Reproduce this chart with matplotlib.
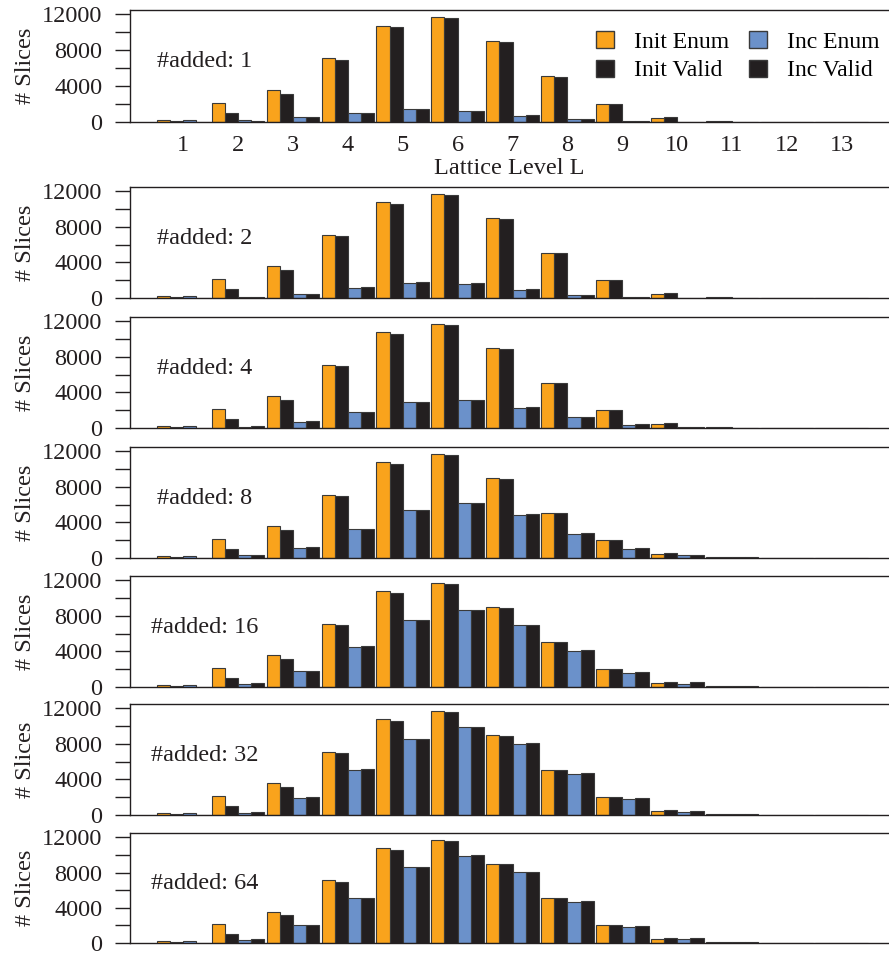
import numpy as np
import matplotlib
matplotlib.use("Agg")
import matplotlib.pyplot as plt
from matplotlib.patches import Patch

plt.rcParams['font.family'] = ['Liberation Serif', 'DejaVu Serif']
plt.rcParams['font.size'] = 17.5

# lattice levels and the initial enumeration (same in every panel)
levels = np.arange(1, 14)
init_enum = [200, 2160, 3560, 7140, 10770, 11700, 9000, 5080, 2050, 480, 90, 25, 10]
init_valid = [100, 1000, 3140, 6950, 10580, 11590, 8930, 5060, 2040, 540, 80, 20, 5]

# incremental enumeration for each number of added constraints
added = [1, 2, 4, 8, 16, 32, 64]
inc_enum_1 = [180, 180, 520, 1050, 1420, 1270, 710, 300, 60, 20, 10, 5, 2]
inc_valid_1 = [50, 150, 550, 1050, 1420, 1280, 780, 320, 60, 20, 10, 5, 2]
inc_enum_2 = [180, 110, 470, 1160, 1720, 1610, 940, 320, 60, 20, 10, 5, 2]
inc_valid_2 = [50, 120, 500, 1190, 1750, 1650, 980, 380, 60, 20, 10, 5, 2]
inc_enum_4 = [180, 150, 680, 1810, 2900, 3130, 2260, 1210, 380, 90, 30, 10, 2]
inc_valid_4 = [50, 190, 750, 1850, 2940, 3170, 2340, 1280, 450, 110, 40, 10, 2]
inc_enum_8 = [180, 300, 1170, 3250, 5400, 6150, 4830, 2680, 1020, 300, 60, 15, 5]
inc_valid_8 = [50, 300, 1250, 3280, 5450, 6200, 4900, 2790, 1130, 340, 70, 20, 5]
inc_enum_16 = [180, 340, 1770, 4550, 7520, 8650, 6950, 4060, 1620, 380, 70, 20, 5]
inc_valid_16 = [50, 410, 1840, 4590, 7590, 8720, 6990, 4140, 1730, 530, 80, 20, 5]
inc_enum_32 = [180, 260, 1960, 5090, 8530, 9890, 8000, 4640, 1770, 340, 70, 20, 5]
inc_valid_32 = [50, 380, 2000, 5130, 8570, 9960, 8080, 4720, 1920, 490, 80, 20, 5]
inc_enum_64 = [180, 340, 1990, 5130, 8580, 9930, 8050, 4680, 1870, 410, 70, 20, 5]
inc_valid_64 = [50, 450, 2020, 5130, 8610, 9960, 8090, 4760, 1950, 560, 80, 20, 5]

inc_enum = [inc_enum_1, inc_enum_2, inc_enum_4, inc_enum_8,
            inc_enum_16, inc_enum_32, inc_enum_64]
inc_valid = [inc_valid_1, inc_valid_2, inc_valid_4, inc_valid_8,
             inc_valid_16, inc_valid_32, inc_valid_64]

c_orange = '#F9A31C'
c_blue = '#6B91CA'
c_black = '#231F20'
c_edge = '#3A3A3A'

W, H = 889, 955
fig = plt.figure(figsize=(W / 100, H / 100), dpi=100)

# panel top/bottom in pixels
panels = [(10, 122), (187, 298), (317, 428), (447, 558),
          (576, 687), (704, 815), (833, 943)]
left_px = 130
w = 0.24

for i, (top, bot) in enumerate(panels):
    ax = fig.add_axes([left_px / W, 1 - bot / H, (W - left_px) / W, (bot - top) / H])
    series = [(init_enum, c_orange), (init_valid, c_black),
              (inc_enum[i], c_blue), (inc_valid[i], c_black)]
    for k, (vals, col) in enumerate(series):
        ax.bar(levels + (k - 1.5) * w, vals, w, color=col,
               edgecolor=c_edge, linewidth=0.8, zorder=2)

    ax.set_xlim(0.03, 13.86)
    ax.set_ylim(0, 12500)
    ax.set_yticks([0, 4000, 8000, 12000])
    ax.set_yticks([2000, 6000, 10000], minor=True)
    ax.tick_params(axis='y', which='both', length=10.8, width=1.0,
                   color=c_black, pad=9, labelcolor=c_black)
    ax.spines['right'].set_visible(False)
    for s in ['left', 'top', 'bottom']:
        ax.spines[s].set_linewidth(1.0)
        ax.spines[s].set_color(c_black)
    ax.set_ylabel('# Slices', color=c_black)
    ax.yaxis.set_label_coords(-0.124, 0.5)

    ax.text(0.098, 0.54, '#added: %d' % added[i], transform=ax.transAxes,
            ha='center', va='center', color=c_black)

    if i == 0:
        ax.set_xticks(levels)
        ax.tick_params(axis='x', length=0, pad=9, labelcolor=c_black)
        ax.set_xlabel('Lattice Level L', labelpad=2, color=c_black)
        handles = [Patch(facecolor=c_orange, edgecolor=c_edge, label='Init Enum'),
                   Patch(facecolor=c_black, edgecolor=c_edge, label='Init Valid'),
                   Patch(facecolor=c_blue, edgecolor=c_edge, label='Inc Enum'),
                   Patch(facecolor=c_black, edgecolor=c_edge, label='Inc Valid')]
        ax.legend(handles=handles, ncol=2, loc='upper right',
                  bbox_to_anchor=(1.0, 0.90), borderaxespad=0, frameon=False,
                  handlelength=0.75, handleheight=0.75, handletextpad=0.85,
                  columnspacing=0.85, labelspacing=0.3, fontsize=17)
    else:
        ax.set_xticks([])

fig.savefig('out.png', dpi=100)
